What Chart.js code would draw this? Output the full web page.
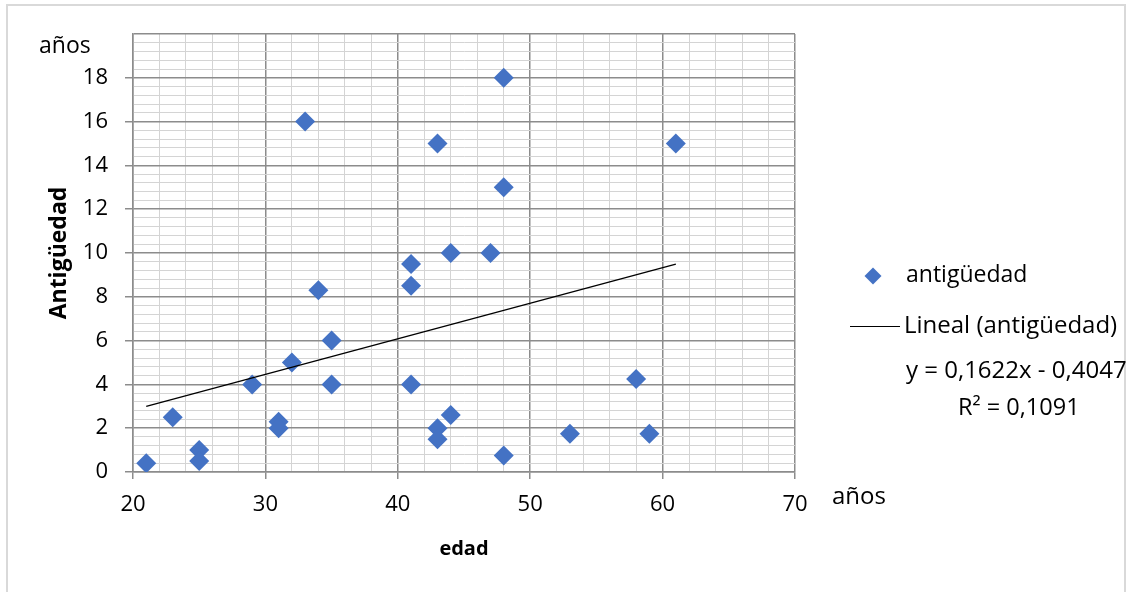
<!DOCTYPE html>
<html>
<head>
<meta charset="utf-8">
<script src="https://cdn.jsdelivr.net/npm/chart.js@4/dist/chart.umd.min.js"></script>
<style>
  body { margin: 0; background: #fff; }
  #wrap { position: relative; width: 1134px; height: 592px; font-family: 'Open Sans', sans-serif; color: #000; }
  #frame { position: absolute; left: 6px; top: 4px; width: 1120px; height: 600px; border: 2px solid #d9d9d9; box-sizing: border-box; }
  canvas { position: absolute; left: 0; top: 0; }
  .txt { position: absolute; white-space: nowrap; line-height: 1; }
  .diamond { position: absolute; width: 12px; height: 12px; background: #4472C4; transform: rotate(45deg); }
  .linea { position: absolute; height: 0; border-top: 1.3px solid #000; }
</style>
</head>
<body>
<div id="wrap">
  <div id="frame"></div>
  <canvas id="grafico" width="1134" height="592"></canvas>
  <span class="txt" style="left:39px; top:33px; font-size:23px;">años</span>
  <span class="txt" style="left:832px; top:483px; font-size:24px;">años</span>
  <div class="diamond" style="left:867px; top:270px;"></div>
  <span class="txt" style="left:906px; top:262px; font-size:23px;">antigüedad</span>
  <div class="linea" style="left:850px; top:326px; width:50px;"></div>
  <span class="txt" style="left:904px; top:312px; font-size:24px;">Lineal (antigüedad)</span>
  <span class="txt" style="left:906px; top:357px; font-size:24px;">y = 0,1622x - 0,4047</span>
  <span class="txt" style="left:958px; top:395px; font-size:23.5px;">R² = 0,1091</span>
</div>
<script>
// datos
var edad = [21, 23, 25, 25, 29, 31, 31, 32, 33, 34, 35, 35, 41, 41, 41, 43, 43, 43, 44, 44, 47, 48, 48, 48, 53, 58, 59, 61];
var antiguedad = [0.4, 2.5, 1.0, 0.5, 4, 2.3, 2.0, 5, 16, 8.3, 6, 4, 9.5, 8.5, 4, 15, 2, 1.5, 10, 2.6, 10, 18, 13, 0.75, 1.75, 4.25, 1.75, 15];

// línea de tendencia (ecuación del gráfico)
var pendiente = 0.1622;
var intercepto = -0.4047;

var ejeX = { min: 20, max: 70, paso: 2, mayor: 10 };
var ejeY = { min: 0, max: 20, paso: 0.4, mayor: 2 };

function esMayor(v, m) {
    return Math.abs(v / m - Math.round(v / m)) < 1e-6;
}

document.fonts.load('20px "Open Sans"').then(function () {
    Chart.defaults.font.family = "'Open Sans', sans-serif";
    Chart.defaults.color = '#000';

    var puntos = edad.map(function (x, i) { return { x: x, y: antiguedad[i] }; });
    var xMin = Math.min.apply(null, edad);
    var xMax = Math.max.apply(null, edad);
    var tendencia = [xMin, xMax].map(function (x) { return { x: x, y: pendiente * x + intercepto }; });

    var ctx = document.getElementById('grafico').getContext('2d');
    new Chart(ctx, {
        type: 'scatter',
        data: {
            datasets: [{
                label: 'Lineal (antigüedad)',
                data: tendencia,
                showLine: true,
                borderColor: '#000',
                borderWidth: 1.3,
                pointRadius: 0,
                order: 0
            }, {
                label: 'antigüedad',
                data: puntos,
                pointStyle: 'rectRot',
                pointRadius: 10,
                backgroundColor: '#4472C4',
                borderColor: '#4472C4',
                borderWidth: 0,
                order: 1
            }]
        },
        options: {
            responsive: false,
            animation: false,
            devicePixelRatio: 1,
            layout: { padding: { left: 0, top: 34, right: 339, bottom: 0 } },
            plugins: { legend: { display: false }, tooltip: { enabled: false } },
            scales: {
                x: {
                    type: 'linear',
                    min: ejeX.min,
                    max: ejeX.max,
                    afterFit: function (s) { s.height = 120; },
                    ticks: {
                        stepSize: ejeX.paso,
                        autoSkip: false,
                        maxRotation: 0,
                        padding: 13,
                        font: { size: 22 },
                        callback: function (v) { return esMayor(v, ejeX.mayor) ? String(v) : ''; }
                    },
                    grid: {
                        color: function (c) { return esMayor(c.tick.value, ejeX.mayor) ? '#8c8c8c' : '#d4d4d4'; },
                        lineWidth: function (c) { return esMayor(c.tick.value, ejeX.mayor) ? 1.5 : 1; },
                        tickLength: 7,
                        tickColor: function (c) { return esMayor(c.tick.value, ejeX.mayor) ? '#8c8c8c' : 'rgba(0,0,0,0)'; }
                    },
                    border: { color: '#8c8c8c', width: 1.5 },
                    title: {
                        display: true,
                        text: 'edad',
                        font: { size: 20, weight: 'bold' },
                        padding: { top: 0, bottom: 31 }
                    }
                },
                y: {
                    type: 'linear',
                    min: ejeY.min,
                    max: ejeY.max,
                    afterFit: function (s) { s.width = 133; },
                    ticks: {
                        stepSize: ejeY.paso,
                        autoSkip: false,
                        padding: 17,
                        font: { size: 22 },
                        callback: function (v) { return esMayor(v, ejeY.mayor) && v < ejeY.max ? String(Math.round(v)) : ''; }
                    },
                    grid: {
                        color: function (c) { return esMayor(c.tick.value, ejeY.mayor) ? '#8c8c8c' : '#d4d4d4'; },
                        lineWidth: function (c) { return esMayor(c.tick.value, ejeY.mayor) ? 1.5 : 1; },
                        tickLength: 8,
                        tickColor: function (c) { return esMayor(c.tick.value, ejeY.mayor) && c.tick.value < ejeY.max ? '#8c8c8c' : 'rgba(0,0,0,0)'; }
                    },
                    border: { color: '#8c8c8c', width: 1.5 },
                    title: {
                        display: true,
                        text: 'Antigüedad',
                        font: { size: 23, weight: 'bold' },
                        padding: { top: 46, bottom: 0 }
                    }
                }
            }
        }
    });
});
</script>
</body>
</html>
